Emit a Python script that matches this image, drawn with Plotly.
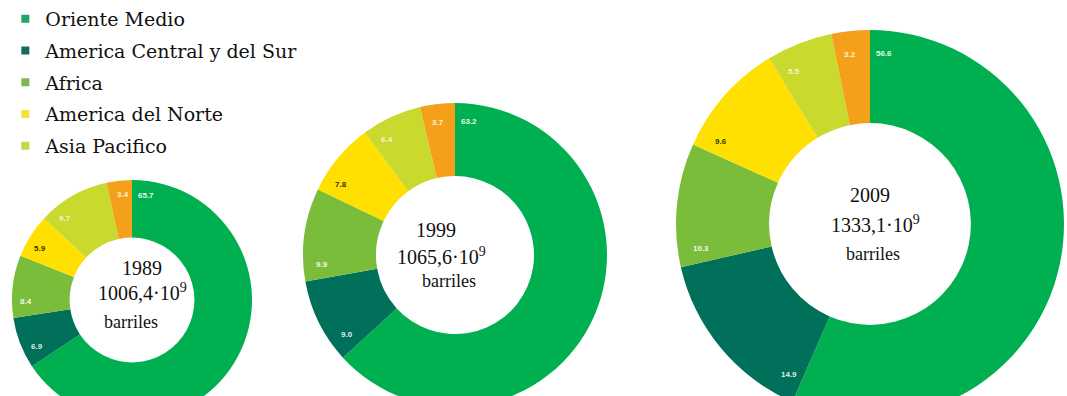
import math
import plotly.graph_objects as go

# ---- data ----
years = ["1989", "1999", "2009"]
totals = ["1006,4", "1065,6", "1333,1"]
regions = ["Oriente Medio", "America Central y del Sur", "Africa",
           "America del Norte", "Asia Pacifico", "Europa y Eurasia"]
legend_regions = ["Oriente Medio", "America Central y del Sur", "Africa",
                  "America del Norte", "Asia Pacifico"]
values_1989 = [65.7, 6.9, 8.4, 5.9, 9.7, 3.4]
values_1999 = [63.2, 9.0, 9.9, 7.8, 6.4, 3.7]
values_2009 = [56.6, 14.9, 10.3, 9.6, 5.5, 3.2]
all_values = [values_1989, values_1999, values_2009]

# ---- style ----
slice_colors = ["#00B050", "#00705A", "#7ABD3A", "#FFE000", "#C9D92E", "#F5A01A"]
legend_colors = ["#23A46E", "#0E6E5A", "#82B553", "#F2E23C", "#C6D64A"]
label_colors = ["#EAF7EE", "#DDEFE8", "#F2F7E8", "#333300", "#F4F6DC", "#FFF0D8"]
SERIF = "Liberation Serif, Times New Roman, serif"

W, H = 1067, 425
# pie centres and radii in pixels (layout)
centres = [(132, 300, 120), (455, 255, 152), (870, 224, 194)]
# centre-text offsets (dx, dy) for year, total, 'barriles' relative to pie centre
text_offsets = [
    [(10, -32), (10, -8), (-1, 22)],
    [(-19, -25), (-14, 1), (-6, 26)],
    [(0, -29), (5, 0), (3, 30)],
]
HOLE = 0.52


def ann(px, py, text, font):
    return dict(x=px / W, y=1 - py / H, xref="paper", yref="paper",
                xanchor="center", yanchor="middle", text=text,
                showarrow=False, font=font)


fig = go.Figure()

annotations = []
for vals, (cx, cy, r), offs, yr, tot in zip(
        all_values, centres, text_offsets, years, totals):
    dom_x = [(cx - r) / W, (cx + r) / W]
    dom_y = [1 - (cy + r) / H, 1 - (cy - r) / H]
    fig.add_trace(go.Pie(
        values=vals, labels=regions, sort=False, direction="clockwise",
        rotation=0, hole=HOLE, textinfo="none", showlegend=False,
        marker=dict(colors=slice_colors, line=dict(width=0)),
        domain=dict(x=dom_x, y=dom_y), hoverinfo="label+value",
    ))
    # slice value labels near the start of each slice, close to outer edge
    total = sum(vals)
    cum = 0.0
    rr = 0.88 * r
    for i, v in enumerate(vals):
        start = cum / total * 2 * math.pi
        ang = start + 14.0 / rr
        px = cx + rr * math.sin(ang)
        py = cy - rr * math.cos(ang)
        annotations.append(ann(px, py, "<b>%.1f</b>" % v,
                               dict(family="Arial", size=8, color=label_colors[i])))
        cum += v
    # centre text
    (dx1, dy1), (dx2, dy2), (dx3, dy3) = offs
    annotations.append(ann(cx + dx1, cy + dy1, yr,
                           dict(family=SERIF, size=20, color="#111")))
    annotations.append(ann(cx + dx2, cy + dy2, "%s·10<sup>9</sup>" % tot,
                           dict(family=SERIF, size=20, color="#111")))
    annotations.append(ann(cx + dx3, cy + dy3, "barriles",
                           dict(family=SERIF, size=18, color="#111")))

# legend via dummy traces
for name, col in zip(legend_regions, legend_colors):
    fig.add_trace(go.Scatter(
        x=[None], y=[None], mode="markers", name=name, legendgroup=name,
        marker=dict(symbol="square", size=8, color=col),
    ))

fig.update_layout(
    width=W, height=H,
    margin=dict(l=0, r=0, t=0, b=0),
    paper_bgcolor="white", plot_bgcolor="white",
    xaxis=dict(visible=False), yaxis=dict(visible=False),
    annotations=annotations,
    legend=dict(
        x=0.005, y=1.0, xanchor="left", yanchor="top",
        font=dict(family="DejaVu Serif, serif", size=19, color="#111"),
        traceorder="grouped", tracegroupgap=4,
        itemwidth=30, bgcolor="rgba(0,0,0,0)",
    ),
)

fig.write_html("out.html", config={"displayModeBar": False},
               post_script="document.body.style.margin='0px';")
